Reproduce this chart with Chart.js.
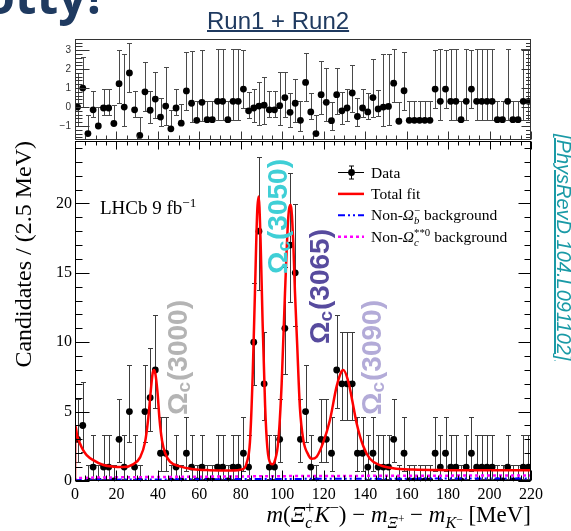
<!DOCTYPE html>
<html>
<head>
<meta charset="utf-8">
<script src="https://cdn.jsdelivr.net/npm/chart.js@4.4.1/dist/chart.umd.min.js"></script>
<style>
  body { margin: 0; background: #fff; }
  #page { position: relative; width: 571px; height: 531px; overflow: hidden; background: #fff; }
  #page canvas { position: absolute; left: 0; top: 0; }
  .slide-title { position: absolute; right: 470px; top: -30px; font: bold 50px/50px "Open Sans", sans-serif; color: #1f3a60; white-space: nowrap; }
  .run { position: absolute; left: 207px; top: 9px; font: 24px/24px "Liberation Sans", Arial, sans-serif; color: #1f3a60; text-decoration: underline; text-decoration-thickness: 2px; white-space: nowrap; }
  .ref { position: absolute; left: 575px; top: 134px; transform-origin: 0 0; transform: rotate(90deg); font: italic 20px/22px "Liberation Sans", Arial, sans-serif; color: #1a9aa6; text-decoration: underline; white-space: nowrap; }
</style>
</head>
<body>
<div id="page">
  <canvas id="mainChart" width="571" height="531"></canvas>
  <canvas id="pullChart" width="571" height="150"></canvas>
  <div class="slide-title">otty!</div>
  <div class="run">Run1 + Run2</div>
  <div class="ref">[PhysRevD.104.L091102]</div>
</div>
<script>
// ---- data ----
const binWidth = 2.5; // MeV
const counts = [3, 4, 0, 1, 0, 1, 1, 0, 3, 1,
                5, 1, 0, 5, 6, 8, 2, 2, 0, 1,
                0, 2, 1, 0, 1, 0, 0, 1, 1, 0,
                1, 1, 2, 1, 10, 18, 7, 1, 1, 3,
                11, 17, 15, 3, 5, 1, 0, 3, 3, 2,
                8, 7, 7, 7, 2, 2, 1, 2, 1, 1,
                1, 3, 0, 2, 0, 0, 0, 0, 0, 2,
                1, 2, 1, 1, 0, 1, 2, 1, 1, 1,
                1, 0, 0, 1, 0, 0, 1, 1];
const pulls = [0.0, 1.0, -1.4, -0.15, -1.0, -0.05, -0.05, -0.87, 1.23, 0.0,
               1.8, -0.15, -1.5, 0.8, -0.17, 0.42, -0.53, 0.05, -1.15, -0.05,
               -0.85, 0.85, 0.2, -0.7, 0.25, -0.67, -0.67, 0.3, 0.3, -0.67,
               0.3, 0.3, 0.95, -0.2, -0.05, 0.05, 0.1, -0.15, -0.15, 0.07,
               0.5, -0.28, 0.2, -0.7, 1.3, -0.26, -1.4, 0.65, 0.25, -0.72,
               0.65, -0.2, -0.05, 0.74, -0.5, -0.05, -0.26, 0.5, -0.1, 0.0,
               0.03, 1.26, -0.75, 0.86, -0.7, -0.7, -0.7, -0.7, -0.7, 0.95,
               0.3, 0.95, 0.3, 0.3, -0.67, 0.3, 0.95, 0.3, 0.3, 0.3,
               0.3, -0.67, -0.67, 0.3, -0.67, -0.67, 0.3, 0.3];

// Poisson 68% interval half-lengths for n = 0..18
const poisLo = [0, 0.827, 1.292, 1.633, 1.914, 2.159, 2.379, 2.582, 2.768, 2.943,
                3.108, 3.265, 3.415, 3.559, 3.698, 3.832, 3.962, 4.088, 4.211];
const poisHi = [1.148, 2.299, 2.637, 2.918, 3.162, 3.382, 3.583, 3.770, 3.945, 4.110,
                4.266, 4.416, 4.559, 4.697, 4.830, 4.958, 5.083, 5.204, 5.321];

const fitX = [0, 0.15, 1, 2.4, 4, 5.6, 8.8, 13.7, 18.5, 23.3, 28, 31.4, 33.8, 35.4, 36.5, 37.5, 38.1,
              38.8, 39.8, 40.8, 42, 43.5, 45.8, 50.6, 57, 65, 75, 81, 82.8, 84.4, 85.7, 86.8, 87.9,
              88.6, 89.5, 90.5, 91.7, 92.8, 94.4, 95.3, 96.5, 98.1, 99.7, 101.3, 102.9, 104.1, 105.3,
              106.1, 107.2, 108.5, 110.1, 112.5, 114.2, 116.6, 119.8, 123, 126.2, 128.6, 129.5, 131.8,
              133.5, 135.9, 139.1, 142.3, 147.1, 153.5, 163, 180, 200, 220];
const fitY = [0, 4.0, 3.3, 2.7, 2.2, 1.87, 1.5, 1.15, 1.03, 1.0, 1.2, 1.7, 2.8, 4.6, 6.4, 7.8, 8.0,
              7.7, 6.4, 4.4, 2.9, 2.0, 1.4, 1.05, 0.85, 0.78, 0.76, 0.85, 1.3, 2.8, 7.5, 13.5, 19.4,
              20.5, 17.5, 11.5, 5.5, 2.4, 1.25, 1.2, 1.5, 2.9, 7.0, 13.5, 19.0, 19.9, 17.2,
              13.7, 9.8, 5.3, 3.0, 1.9, 1.6, 1.75, 2.8, 4.4, 6.8, 7.9, 8.0, 7.2,
              6.0, 4.15, 2.5, 1.6, 1.15, 0.92, 0.82, 0.78, 0.77, 0.77];
const bkgX = [0, 0.5, 10, 50, 100, 160, 220];
const bkgOmegaB = [0, 0.06, 0.09, 0.12, 0.15, 0.17, 0.18];
const bkgOmegaC = [0, 0.2, 0.25, 0.3, 0.35, 0.38, 0.4];

const xTickValues = [0, 20, 40, 60, 80, 100, 120, 140, 160, 180, 200, 220];
const yTickValues = [0, 5, 10, 15, 20];
const pullTickValues = [-1, 0, 1, 2, 3];

const stateNames = ['3000', '3050', '3065', '3090'];
const stateColors = ['#b4b4b4', '#3fcfd6', '#574b9e', '#b3abd8'];
const statePos = [[187, 415], [287, 274], [329, 344], [381, 415]];

const serif = '"Liberation Serif", "Times New Roman", serif';
const sans = '"Liberation Sans", Arial, sans-serif';

const binCenters = counts.map((_, i) => binWidth * (i + 0.5));
const toPts = (xs, ys) => xs.map((x, i) => ({ x, y: ys[i] }));

// ---- helpers ----
function runFont(r, size) {
    const s = r.tiny ? size * 0.5 : (r.sub || r.sup) ? size * 0.7 : size;
    return `${r.it ? 'italic ' : ''}${s.toFixed(1)}px ${serif}`;
}
function runShift(r, size) {
    if (r.sub) return size * 0.25;
    if (r.sup) return -size * 0.38;
    if (r.tiny) return size * 0.05;
    return 0;
}
function richWidth(ctx, runs, size) {
    let w = 0, held = 0;
    runs.forEach(r => {
        ctx.font = runFont(r, size);
        const rw = ctx.measureText(r.t).width;
        if (r.stack) held = rw;
        else { w += Math.max(rw, held); held = 0; }
    });
    return w;
}
function drawRich(ctx, runs, x, y, size, align) {
    let cx = align === 'right' ? x - richWidth(ctx, runs, size) : x;
    let held = 0;
    runs.forEach(r => {
        ctx.font = runFont(r, size);
        ctx.fillText(r.t, cx, y + runShift(r, size));
        const rw = ctx.measureText(r.t).width;
        if (r.stack) held = rw;
        else { cx += Math.max(rw, held); held = 0; }
    });
}

const errorBarPlugin = {
    id: 'errorBars',
    beforeDatasetDraw(chart, args) {
        const ds = chart.data.datasets[args.index];
        if (!ds.errLo) return;
        const { ctx, scales: { x, y } } = chart;
        ctx.save();
        ctx.strokeStyle = ds.errColor || '#444';
        ctx.lineWidth = 1;
        ds.data.forEach((p, i) => {
            const px = Math.round(x.getPixelForValue(p.x)) + 0.5;
            const top = Math.round(y.getPixelForValue(p.y + ds.errHi[i])) + 0.5;
            const bot = Math.round(y.getPixelForValue(p.y - ds.errLo[i])) + 0.5;
            ctx.beginPath();
            ctx.moveTo(px, top); ctx.lineTo(px, bot);
            ctx.moveTo(px - 2.5, top); ctx.lineTo(px + 2.5, top);
            if (ds.errLo[i] > 0) { ctx.moveTo(px - 2.5, bot); ctx.lineTo(px + 2.5, bot); }
            ctx.stroke();
        });
        ctx.restore();
    }
};

// frame + ROOT style inward ticks
const frameTicksPlugin = {
    id: 'frameTicks',
    afterDatasetsDraw(chart, args, o) {
        const { ctx, chartArea: a, scales: { x, y } } = chart;
        const L = Math.round(a.left) + 0.5, R = Math.round(a.right) - 0.5;
        const T = Math.round(a.top) + 0.5, B = Math.round(a.bottom) - 0.5;
        ctx.save();
        ctx.strokeStyle = o.color;
        ctx.lineWidth = 1;
        ctx.strokeRect(L, T, R - L, B - T);
        ctx.beginPath();
        const nx = Math.round((x.max - x.min) / o.xMinor);
        for (let i = 0; i <= nx; i++) {
            const v = x.min + i * o.xMinor;
            const px = Math.round(x.getPixelForValue(v)) + 0.5;
            const major = Math.abs(v / o.xMajor - Math.round(v / o.xMajor)) < 1e-6;
            if (o.bottom) { ctx.moveTo(px, B); ctx.lineTo(px, B - (major ? o.bottom[0] : o.bottom[1])); }
            if (o.top) { ctx.moveTo(px, T); ctx.lineTo(px, T + (major ? o.top[0] : o.top[1])); }
        }
        const k0 = Math.ceil(y.min / o.yMinor - 1e-6), k1 = Math.floor(y.max / o.yMinor + 1e-6);
        for (let k = k0; k <= k1; k++) {
            const v = k * o.yMinor;
            const py = Math.round(y.getPixelForValue(v)) + 0.5;
            const major = Math.abs(v / o.yMajor - Math.round(v / o.yMajor)) < 1e-6;
            ctx.moveTo(L, py); ctx.lineTo(L + (major ? o.left[0] : o.left[1]), py);
            ctx.moveTo(R, py); ctx.lineTo(R - (major ? o.right[0] : o.right[1]), py);
        }
        ctx.stroke();
        ctx.restore();
    }
};

const xTitleRuns = [
    { t: 'm', it: true }, { t: '(' }, { t: 'Ξ', it: true }, { t: 'c', it: true, sub: true, stack: true }, { t: '+', sup: true },
    { t: 'K', it: true }, { t: '−', sup: true }, { t: ') − ' },
    { t: 'm', it: true }, { t: 'Ξ', it: true, sub: true }, { t: '+', tiny: true }, { t: ' − ' },
    { t: 'm', it: true }, { t: 'K', it: true, sub: true }, { t: '−', tiny: true }, { t: ' [MeV]' }
];
const legendRows = [
    { kind: 'data', runs: [{ t: 'Data' }] },
    { kind: 'fit', runs: [{ t: 'Total fit' }] },
    { kind: 'bkgB', runs: [{ t: 'Non-' }, { t: 'Ω', it: true }, { t: 'b', it: true, sub: true, stack: true }, { t: '−', sup: true }, { t: ' background' }] },
    { kind: 'bkgC', runs: [{ t: 'Non-' }, { t: 'Ω', it: true }, { t: 'c', it: true, sub: true, stack: true }, { t: '**0', sup: true }, { t: ' background' }] }
];

const annotationPlugin = {
    id: 'annotations',
    afterDraw(chart) {
        const { ctx, chartArea: a } = chart;
        ctx.save();
        ctx.fillStyle = '#000';
        ctx.textBaseline = 'alphabetic';
        drawRich(ctx, xTitleRuns, a.right, 522, 23, 'right');
        drawRich(ctx, [{ t: 'LHCb 9 fb' }, { t: '−1', sup: true }], 100, 214, 19);

        // legend
        legendRows.forEach((row, i) => {
            const ly = 172.5 + i * 21.4;
            ctx.save();
            ctx.beginPath();
            if (row.kind === 'data') {
                ctx.strokeStyle = '#000'; ctx.lineWidth = 1;
                ctx.moveTo(338, ly); ctx.lineTo(364, ly);
                ctx.moveTo(351.5, ly - 6.5); ctx.lineTo(351.5, ly + 6.5);
                ctx.moveTo(349, ly - 6.5); ctx.lineTo(354, ly - 6.5);
                ctx.moveTo(349, ly + 6.5); ctx.lineTo(354, ly + 6.5);
                ctx.stroke();
                ctx.beginPath(); ctx.arc(351.5, ly, 3.4, 0, Math.PI * 2); ctx.fillStyle = '#000'; ctx.fill();
            } else {
                const ds = chart.data.datasets.find(d => d.key === row.kind);
                ctx.strokeStyle = ds.borderColor; ctx.lineWidth = ds.borderWidth;
                ctx.setLineDash(ds.borderDash || []);
                ctx.moveTo(338, ly); ctx.lineTo(364, ly);
                ctx.stroke();
            }
            ctx.restore();
            drawRich(ctx, row.runs, 371, ly + 5, 15.5);
        });

        // resonance labels, rotated
        stateNames.forEach((name, i) => {
            const [px, py] = statePos[i];
            ctx.save();
            ctx.translate(px, py);
            ctx.rotate(-Math.PI / 2);
            ctx.fillStyle = stateColors[i];
            ctx.font = `bold 28px ${sans}`;
            ctx.fillText('Ω', 0, 0);
            let w = ctx.measureText('Ω').width;
            ctx.font = `bold 19px ${sans}`;
            ctx.fillText('c', w, 3);
            w += ctx.measureText('c').width + 1;
            ctx.font = `bold 28px ${sans}`;
            ctx.fillText(`(${name})`, w, 0);
            ctx.restore();
        });
        ctx.restore();
    }
};

// ---- main mass plot ----
new Chart(document.getElementById('mainChart'), {
    type: 'scatter',
    data: {
        datasets: [
            { key: 'fit', type: 'line', data: toPts(fitX, fitY), borderColor: '#ff0000', borderWidth: 2.5,
              pointRadius: 0, cubicInterpolationMode: 'monotone', fill: false },
            { key: 'bkgB', type: 'line', data: toPts(bkgX, bkgOmegaB), borderColor: '#0000ff', borderWidth: 2,
              borderDash: [7, 3, 2, 3, 2, 3], pointRadius: 0, fill: false },
            { key: 'bkgC', type: 'line', data: toPts(bkgX, bkgOmegaC), borderColor: '#ff00ff', borderWidth: 2.5,
              borderDash: [3, 3], pointRadius: 0, fill: false },
            { key: 'data', data: toPts(binCenters, counts),
              errLo: counts.map(n => poisLo[n]), errHi: counts.map(n => poisHi[n]), errColor: '#3c3c3c',
              pointRadius: 3.4, backgroundColor: '#000', borderColor: '#000', borderWidth: 0 }
        ]
    },
    options: {
        responsive: false,
        animation: false,
        events: [],
        layout: { padding: { left: 6, right: 40, top: 141, bottom: 0 } },
        plugins: {
            legend: { display: false },
            tooltip: { enabled: false },
            frameTicks: { color: '#000', xMajor: 20, xMinor: 5, yMajor: 5, yMinor: 1,
                          bottom: [10, 5], top: [8, 4], left: [14, 7], right: [12, 6] }
        },
        scales: {
            x: {
                type: 'linear', min: 0, max: 220,
                grid: { display: false, drawTicks: false }, border: { display: false },
                afterBuildTicks: s => { s.ticks = xTickValues.map(value => ({ value })); },
                afterFit: s => { s.height = 50; },
                ticks: { autoSkip: false, maxRotation: 0, padding: 4, color: '#000', font: { family: serif, size: 16 } }
            },
            y: {
                min: 0, max: 24.5,
                grid: { display: false, drawTicks: false }, border: { display: false },
                afterBuildTicks: s => { s.ticks = yTickValues.map(value => ({ value })); },
                afterFit: s => { s.width = 69; },
                ticks: { padding: 3, color: '#000', font: { family: serif, size: 16 } },
                title: { display: true, text: 'Candidates / (2.5 MeV)', align: 'end', color: '#000',
                         font: { family: serif, size: 24 }, padding: { top: 4, bottom: 4 } }
            }
        }
    },
    plugins: [errorBarPlugin, frameTicksPlugin, annotationPlugin]
});

// ---- pull panel ----
const pullLo = pulls.map((p, i) => p >= 0 ? 1 : poisLo[counts[i]] / poisHi[counts[i]]);
const pullHi = pulls.map((p, i) => p >= 0 ? poisHi[counts[i]] / poisLo[counts[i]] : 1);

new Chart(document.getElementById('pullChart'), {
    type: 'scatter',
    data: {
        datasets: [{
            data: toPts(binCenters, pulls), errLo: pullLo, errHi: pullHi, errColor: '#4a4a4a',
            pointRadius: 3.4, backgroundColor: '#000', borderColor: '#000', borderWidth: 0
        }]
    },
    options: {
        responsive: false,
        animation: false,
        events: [],
        layout: { padding: { left: 0, right: 40, top: 39, bottom: 9 } },
        plugins: {
            legend: { display: false },
            tooltip: { enabled: false },
            frameTicks: { color: '#333', xMajor: 20, xMinor: 5, yMajor: 1, yMinor: 0.2,
                          bottom: [8, 4], top: null, left: [14, 7], right: [9, 4.5] }
        },
        scales: {
            x: { type: 'linear', min: 0, max: 220, display: false },
            y: {
                min: -1.74, max: 3.59,
                grid: { display: false, drawTicks: false }, border: { display: false },
                afterBuildTicks: s => { s.ticks = pullTickValues.map(value => ({ value })); },
                afterFit: s => { s.width = 75; },
                ticks: { padding: 4, color: '#333', font: { family: sans, size: 10 },
                         callback: v => v < 0 ? '−' + (-v) : String(v) }
            }
        }
    },
    plugins: [errorBarPlugin, frameTicksPlugin]
});
</script>
</body>
</html>
